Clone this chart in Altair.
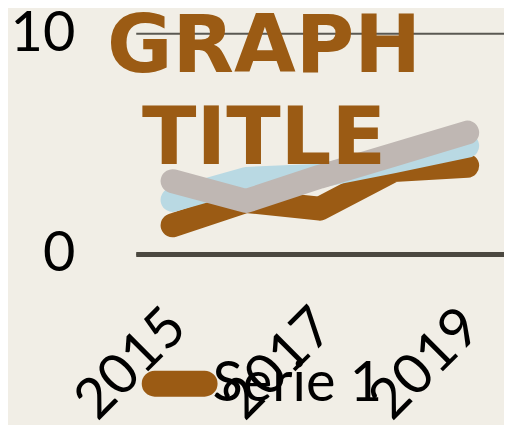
import altair as alt
import pandas as pd

years = ["2015", "2016", "2017", "2018", "2019"]
serie_1 = [1.3, 2.4, 2.05, 3.8, 4.0]
serie_2 = [2.45, 3.4, 3.55, 4.2, 4.9]
serie_3 = [3.3, 2.4, 3.5, 4.5, 5.5]
series_names = ["Serie 1", "Serie 2", "Serie 3"]
series_colors = ["#9b5b14", "#b9d9e3", "#bfb7b3"]
x_labels = ["2015", "2017", "2019"]
y_ticks = [0, 10]
legend_values = ["Serie 1"]
title_lines = ["GRAPH", "TITLE"]

rows = []
for name, vals in zip(series_names, [serie_1, serie_2, serie_3]):
    for yr, v in zip(years, vals):
        rows.append({"year": yr, "value": v, "series": name})
df = pd.DataFrame(rows)

# thin capsule outline; stroked thickly it becomes a rounded pill
pill_path = "M-1,-0.04H1A0.04,0.04 0 0 1 1,0.04H-1A0.04,0.04 0 0 1 -1,-0.04Z"

chart = alt.Chart(df).mark_line(
    strokeWidth=24, strokeCap="round", strokeJoin="round"
).encode(
    x=alt.X(
        "year:O", sort=years,
        scale=alt.Scale(type="point", padding=0.5),
        axis=alt.Axis(
            values=x_labels, title=None, labelAngle=315, labelFontSize=56,
            labelFont="Lato", labelColor="black", labelPadding=45,
            labelOffset={"expr": "-15"},
            ticks=False, grid=False, domainColor="#4b4840", domainWidth=5,
            labelAlign="right", labelBaseline="top",
        ),
    ),
    y=alt.Y(
        "value:Q", scale=alt.Scale(domain=[0, 10]),
        axis=alt.Axis(
            values=y_ticks, title=None, labelFontSize=56, labelFont="Lato",
            labelColor="black", labelPadding=61, ticks=False, domain=False,
            grid=True, gridColor="#5a5852", gridWidth=2,
        ),
    ),
    color=alt.Color(
        "series:N",
        scale=alt.Scale(domain=series_names, range=series_colors),
        legend=alt.Legend(
            values=legend_values, orient="none", legendX=7, legendY=314,
            title=None, labelFont="Lato", labelFontSize=56, labelColor="black",
            labelLimit=600,
            symbolType=pill_path, symbolSize=2500, symbolStrokeWidth=24,
            labelOffset={"expr": "-4"}, padding=0,
        ),
    ),
).properties(
    width=369, height=221,
    autosize=alt.AutoSizeParams(type="none"),
    padding={"left": 128, "top": 25, "right": 0, "bottom": 171},
    background="#f1eee6",
    title=alt.TitleParams(
        title_lines, font="DejaVu Sans", fontWeight="bold", fontSize=80,
        color="#9b5b14", lineHeight=92, anchor="middle", frame="bounds",
        dy=180, dx=7,
    ),
).configure_view(stroke=None)

chart.save("out.html", embed_options={"renderer": "svg", "actions": False})
